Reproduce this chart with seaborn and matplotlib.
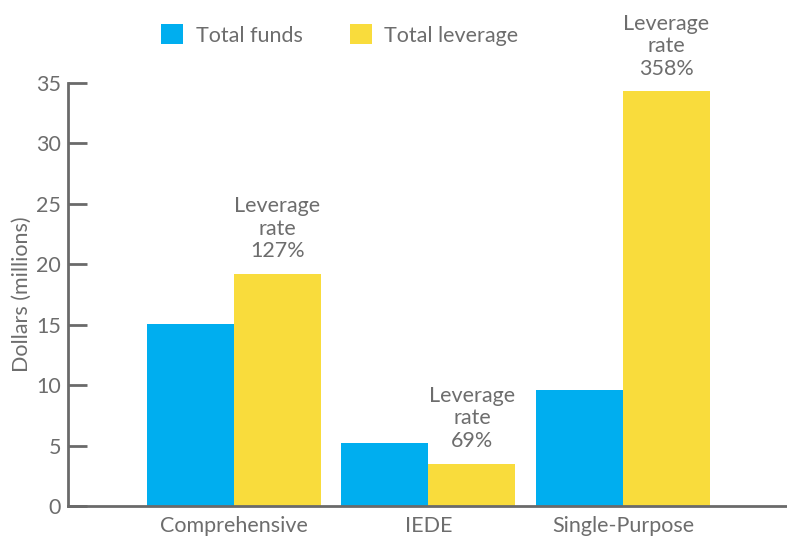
import matplotlib
matplotlib.use("Agg")
import matplotlib.pyplot as plt
import seaborn as sns
import pandas as pd
from matplotlib.patches import Patch

categories = ["Comprehensive", "IEDE", "Single-Purpose"]
total_funds = [15.1, 5.2, 9.6]
total_leverage = [19.2, 3.5, 34.3]
leverage_rates = ["127%", "69%", "358%"]
series_names = ["Total funds", "Total leverage"]
yticks = [0, 5, 10, 15, 20, 25, 30, 35]

sns.set_theme(style="white")
plt.rcParams['font.family'] = ['Lato', 'DejaVu Sans']

BLUE = "#00AEEF"
YELLOW = "#F9DC3C"
GRAY = "#6d6d6d"
AXC = "#6a6a6a"
FS = 15.5

df = pd.DataFrame({
    "category": categories * 2,
    "series": [series_names[0]] * 3 + [series_names[1]] * 3,
    "value": total_funds + total_leverage,
})

fig = plt.figure(figsize=(7.87, 5.38), dpi=100)
ax = fig.add_axes([68/787, 1-506/538, 1-68/787, (506-83)/538])

sns.barplot(data=df, x="category", y="value", hue="series",
            palette=[BLUE, YELLOW], width=0.895, gap=0, ax=ax,
            saturation=1, legend=False, linewidth=0)

ax.set_ylim(0, 35)
ax.set_xlim(-0.853, 2.844)
ax.set_yticks(yticks)
ax.set_yticklabels([str(t) for t in yticks])
ax.set_xlabel("")
ax.set_ylabel("Dollars (millions)", fontsize=FS, color=GRAY, labelpad=3)

for s in ["top", "right"]:
    ax.spines[s].set_visible(False)
for s in ["left", "bottom"]:
    ax.spines[s].set_color(AXC)
    ax.spines[s].set_linewidth(2)

ax.tick_params(axis="y", direction="in", length=14, width=2, color=AXC,
               labelsize=FS, labelcolor=GRAY, pad=5, left=True)
ax.tick_params(axis="x", length=0, labelsize=FS, labelcolor=GRAY, pad=7)

for patch, rate in zip(ax.containers[1], leverage_rates):
    x = patch.get_x() + patch.get_width() / 2
    h = patch.get_height()
    ax.annotate(f"Leverage\nrate\n{rate}", xy=(x, h), xytext=(0, 9),
                textcoords="offset points", ha="center", va="bottom",
                fontsize=FS, color=GRAY, linespacing=1.17)

handles = [Patch(facecolor=BLUE, edgecolor="none"),
           Patch(facecolor=YELLOW, edgecolor="none")]
fig.legend(handles, series_names, loc="center", bbox_to_anchor=(340/787, 1-35/538),
           ncol=2, frameon=False, fontsize=FS, handlelength=1.0, handleheight=1.0,
           handletextpad=0.6, columnspacing=2.2, labelcolor=GRAY)

fig.savefig("out.png", dpi=100)
